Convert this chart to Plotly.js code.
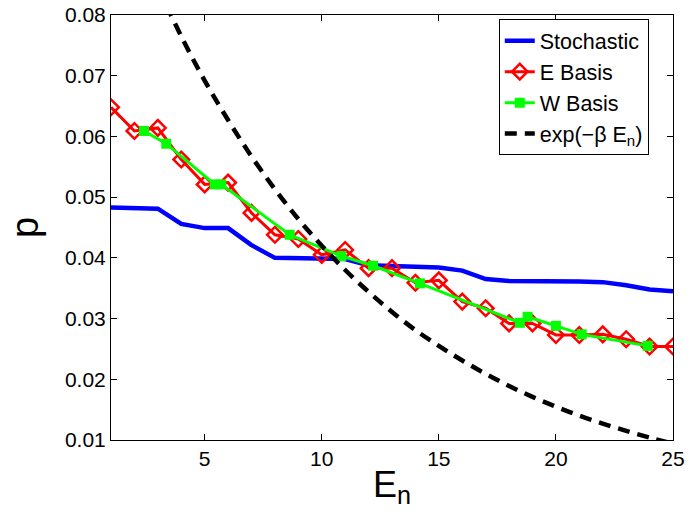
<!DOCTYPE html>
<html>
<head>
<meta charset="utf-8">
<script src="https://cdn.plot.ly/plotly-3.0.1.min.js"></script>
<style>html,body{margin:0;padding:0;background:#fff;}</style>
</head>
<body>
<div id="chart" style="width:693px;height:516px;"></div>
<script>
// Stochastic
const xStoch = [1,2,3,4,5,6,7,8,9,10,11,12,13,14,15,16,17,18,19,20,21,22,23,24,25];
const stochastic = [0.0483,0.0482,0.0481,0.0456,0.0449,0.0449,0.0421,0.0400,0.0399,0.0399,0.0398,0.0388,0.0387,0.0385,0.0384,0.0379,0.0365,0.0362,0.0362,0.0361,0.0361,0.0360,0.0355,0.0348,0.0345];
// E Basis
const xE = [1,2,3,4,5,6,7,8,9,10,11,12,13,14,15,16,17,18,19,20,21,22,23,24,25];
const eBasis = [0.0648,0.0609,0.0614,0.0562,0.0521,0.0524,0.0474,0.0438,0.0431,0.0405,0.0413,0.0383,0.0383,0.0359,0.0363,0.0328,0.0317,0.0292,0.0292,0.0273,0.0273,0.0274,0.0266,0.0254,0.0254];
// W Basis
const xW = [2.41,3.36,5.43,5.71,8.63,10.84,12.19,14.19,18.46,18.79,20.0,21.1,23.92];
const wBasis = [0.0609,0.0588,0.0521,0.0521,0.0438,0.0403,0.0387,0.0358,0.0293,0.0303,0.0288,0.0274,0.0255];
// exp(-beta E_n) reference curve
const xT = [3,4,5,6,7,8,9,10,11,12,13,14,15,16,17,18,19,20,21,22,23,24,25];
const theory = [0.0846,0.0765,0.0692,0.0627,0.0567,0.0513,0.0464,0.0420,0.0380,0.0344,0.0311,0.0281,0.0255,0.0231,0.0209,0.0189,0.0171,0.0155,0.0140,0.0127,0.0115,0.0104,0.0094];

const xTicks = [5,10,15,20,25];
const yTicks = [0.01,0.02,0.03,0.04,0.05,0.06,0.07,0.08];

const FONT = "Liberation Sans, Arial, Helvetica, sans-serif";

const traces = [
  {x: xStoch, y: stochastic, name: 'Stochastic', mode: 'lines',
   line: {color: '#0000ff', width: 4.5}},
  {x: xE, y: eBasis, name: 'E Basis', mode: 'lines+markers',
   line: {color: '#ff0000', width: 3},
   marker: {symbol: 'diamond-open', size: 12, color: '#ff0000', line: {color: '#ff0000', width: 2.5}}},
  {x: xW, y: wBasis, name: 'W Basis', mode: 'lines+markers',
   line: {color: '#00ff00', width: 3},
   marker: {symbol: 'square', size: 10, color: '#00ff00'}},
  {x: xT, y: theory, name: 'exp(−β E<sub>n</sub>)', mode: 'lines', line: {color: '#000000', width: 4.5, dash: '12px,8px', shape: 'spline'}}
];

const layout = {
  width: 693, height: 516,
  margin: {l: 111, r: 20, t: 15, b: 76},
  paper_bgcolor: '#fff', plot_bgcolor: '#fff',
  font: {family: FONT, color: '#000', size: 21},
  showlegend: true,
  legend: {x: 0.69, y: 0.99, xanchor: 'left', yanchor: 'top',
    bgcolor: '#fff', bordercolor: '#000', borderwidth: 1,
    entrywidth: 186, entrywidthmode: 'pixels',
    font: {family: FONT, size: 21.5, color: '#000'}, tracegroupgap: 0},
  xaxis: {
    range: [1, 25], tickvals: xTicks, ticktext: xTicks.map(String),
    ticks: 'inside', ticklen: 6, tickcolor: '#000', tickwidth: 1,
    showline: true, linecolor: '#000', linewidth: 1, mirror: 'ticks',
    showgrid: false, zeroline: false,
    tickfont: {family: FONT, size: 21},
    title: {text: 'E<sub>n</sub>', font: {family: FONT, size: 36}, standoff: 2}
  },
  yaxis: {
    range: [0.01, 0.08], tickvals: yTicks, ticktext: yTicks.map(v => v.toFixed(2)),
    ticks: 'inside', ticklen: 6, tickcolor: '#000', tickwidth: 1,
    showline: true, linecolor: '#000', linewidth: 1, mirror: 'ticks',
    showgrid: false, zeroline: false,
    tickfont: {family: FONT, size: 21},
    title: {text: 'p', font: {family: FONT, size: 38}, standoff: 14}
  }
};

Plotly.newPlot('chart', traces, layout, {displayModeBar: false, staticPlot: true});
</script>
</body>
</html>
